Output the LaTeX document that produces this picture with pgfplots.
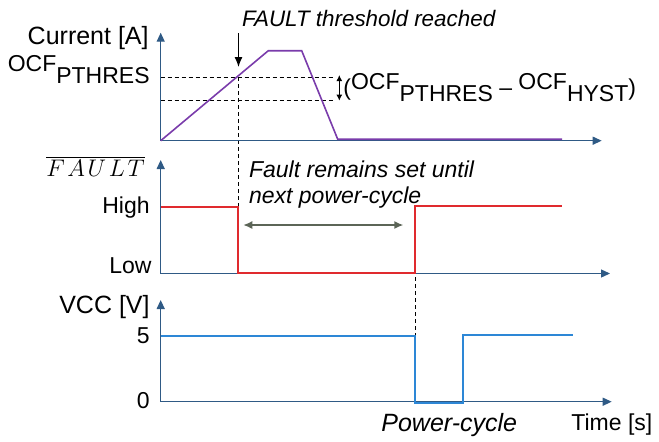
\documentclass[border=0pt]{standalone}
\usepackage{fontspec}
\setmainfont{Liberation Sans}
\usepackage{pgfplots}
\pgfplotsset{compat=1.18}
\usetikzlibrary{arrows.meta}

\definecolor{axiscol}{HTML}{2F5A85}
\definecolor{ocfpurple}{HTML}{7A3CAB}
\definecolor{faultred}{HTML}{E02A2E}
\definecolor{vccblue}{HTML}{2D87D6}
\definecolor{spangrey}{HTML}{5C6557}

\newcommand\lbl{\fontsize{11.5}{13}\selectfont}
\newcommand\lblbig{\fontsize{12.5}{14}\selectfont}
\newcommand\up[1]{\raisebox{3pt}{#1}}
\newcommand\dn[1]{\raisebox{-3pt}{#1}}

% one panel of the timing diagram; 1 unit = 1 px of the reference
\pgfplotsset{
  timing/.style={
    x=0.5pt, y=0.5pt, xmin=0, ymin=0,
    axis lines=left, clip=false, enlargelimits=false,
    xtick=\empty, ytick=\empty,
    axis line style={axiscol, line width=0.65pt},
    x axis line style={-{Triangle[length=4.5pt,width=4pt]}},
    y axis line style={-{Triangle[length=4.5pt,width=4pt]}},
    anchor=south west,
  }
}

\begin{document}
\begin{tikzpicture}[x=0.5pt,y=0.5pt]
\path[use as bounding box] (0,0) rectangle (659,-441);

% guide lines
\begin{scope}[black, line width=0.5pt, dash pattern=on 2pt off 1.5pt]
  \draw (160.7,-77.3) -- (335,-77.3);
  \draw (160.7,-100) -- (335,-100);
  \draw (238.5,-77.3) -- (238.5,-207);
  \draw (415,-207) -- (415,-336);
\end{scope}

% current
\begin{axis}[timing, at={(160.7,-140.7)}, xmax=441, ymax=108]
  \addplot[ocfpurple, line width=0.8pt] coordinates
    {(0,0) (107.6,90) (141,90) (177,1.5) (401.3,1.5)};
\end{axis}

% FAULT
\begin{axis}[timing, at={(160.7,-273.5)}, xmax=449.3, ymax=113.5]
  \addplot[faultred, line width=1pt] coordinates
    {(0,66.5) (77.6,66.5) (77.6,0.5) (254.3,0.5) (254.3,67.5) (401,67.5)};
\end{axis}

% VCC
\begin{axis}[timing, at={(160.7,-401.7)}, xmax=451, ymax=101.7]
  \addplot[vccblue, line width=1pt] coordinates
    {(0,65.5) (254.3,65.5) (254.3,-1) (302.6,-1) (302.6,66.7) (412,66.7)};
\end{axis}

% arrows
\draw[-{Latex[length=5pt,width=4pt]}, line width=0.6pt] (238.5,-33) -- (238.5,-67);
\draw[{Latex[length=3pt,width=3pt]}-{Latex[length=3pt,width=3pt]}, line width=0.6pt]
  (339.3,-75) -- (339.3,-100.7);
\draw[{Latex[length=4.5pt,width=4pt]}-{Latex[length=4.5pt,width=4pt]}, spangrey, line width=0.7pt]
  (243.3,-225) -- (403.3,-225);

% labels
\begin{scope}[every node/.style={inner sep=0pt, font=\lbl}]
  \node[anchor=base east, font=\lblbig] at (149,-44.3) {Current [A]};
  \node[anchor=base east] at (150,-77) {\up{OCF}\dn{PTHRES}};
  \node[anchor=base west] at (343,-95) {(\up{OCF}\dn{PTHRES} – \up{OCF}\dn{HYST})};
  \node[anchor=base west, font=\fontsize{11.2}{13}\selectfont\itshape] at (241.7,-26) {FAULT threshold reached};
  \node[anchor=base east, font=\fontsize{12}{14}\selectfont] at (145,-176.7) {$\overline{F\mkern2mu A\mkern2mu U\mkern2mu L\mkern2mu T}$};
  \node[anchor=base east] at (150,-213) {High};
  \node[anchor=base east] at (152,-273) {Low};
  \node[anchor=base west, font=\lbl\itshape] at (248.7,-177) {Fault remains set until};
  \node[anchor=base west, font=\lbl\itshape] at (248.7,-203) {next power-cycle};
  \node[anchor=base east, font=\lblbig] at (150,-313) {VCC [V]};
  \node[anchor=base east] at (150,-343) {5};
  \node[anchor=base east] at (150,-408) {0};
  \node[anchor=base west, font=\lblbig\itshape] at (381,-431) {Power-cycle};
  \node[anchor=base west] at (571,-430) {Time [s]};
\end{scope}
\end{tikzpicture}
\end{document}
